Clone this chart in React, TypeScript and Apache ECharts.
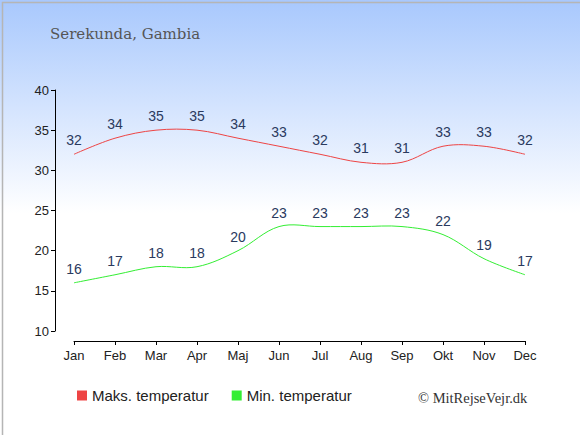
import React, { useEffect, useRef } from "react";
import * as echarts from "echarts";

const months = ["Jan", "Feb", "Mar", "Apr", "Maj", "Jun", "Jul", "Aug", "Sep", "Okt", "Nov", "Dec"];
const maxTemp = [32, 34, 35, 35, 34, 33, 32, 31, 31, 33, 33, 32];
const minTemp = [16, 17, 18, 18, 20, 23, 23, 23, 23, 22, 19, 17];
const yTicks = { min: 10, max: 40, interval: 5 };

const MAX_COLOR = "#ee4444";
const MIN_COLOR = "#33ee33";

function curveSeries(values: number[], color: string) {
  return {
    type: "custom",
    silent: true,
    data: values.map((v, i) => [i, v]),
    renderItem: (params: any, api: any) => {
      if (params.dataIndex !== 0) return { type: "group", children: [] };
      const pts = values.map((v, i) => api.coord([i, v]));
      return {
        type: "polyline",
        shape: { points: pts, smooth: 0.35 },
        style: { stroke: color, lineWidth: 1, fill: "none" },
      };
    },
  };
}

export default function App() {
  const ref = useRef<HTMLDivElement>(null);
  useEffect(() => {
    document.body.style.margin = "0";
    const chart = echarts.init(ref.current!, null, { renderer: "svg" });
    const labelStyle = { show: true, position: "top" as const, distance: 7, color: "#2a3a5e", fontSize: 14, fontFamily: "Liberation Sans, Arial, sans-serif" };
    chart.setOption({
      animation: false,
      backgroundColor: {
        type: "linear", x: 0, y: 0, x2: 0, y2: 1,
        colorStops: [
          { offset: 0, color: "#a8c8fd" },
          { offset: 0.49, color: "#ffffff" },
          { offset: 1, color: "#ffffff" },
        ],
      },
      title: {
        text: "Serekunda, Gambia",
        left: 45, top: 21,
        textStyle: { fontFamily: "DejaVu Serif, serif", fontWeight: "normal", fontSize: 15, color: "#555555" },
      },
      grid: { left: 74, right: 55, top: 90, bottom: 104 },
      legend: {
        bottom: 27, left: 72,
        itemWidth: 10, itemHeight: 10, itemGap: 23,
        icon: "rect",
        textStyle: { fontFamily: "Liberation Sans, Arial, sans-serif", fontSize: 15, color: "#222" },
        data: ["Maks. temperatur", "Min. temperatur"],
      },
      graphic: [
        { type: "rect", left: 0, top: 0, shape: { width: 579, height: 434 }, style: { fill: "none", stroke: "#b5b5b5", lineWidth: 1.5 }, silent: true },
        { type: "text", left: 418, top: 390, style: { text: "© MitRejseVejr.dk", font: "14.5px 'Liberation Serif', serif", fill: "#333" } },
      ],
      xAxis: {
        type: "category",
        data: months,
        boundaryGap: false,
        offset: 10,
        axisLine: { lineStyle: { color: "#000", width: 1 } },
        axisTick: { alignWithLabel: true, length: 4, lineStyle: { color: "#000" } },
        axisLabel: { color: "#222", fontSize: 13, margin: 8, fontFamily: "Liberation Sans, Arial, sans-serif" },
      },
      yAxis: {
        type: "value",
        min: yTicks.min, max: yTicks.max, interval: yTicks.interval,
        offset: 19,
        axisLine: { show: true, lineStyle: { color: "#000", width: 1 } },
        axisTick: { show: true, length: 4, lineStyle: { color: "#000" } },
        axisLabel: { color: "#222", fontSize: 13, margin: 6, fontFamily: "Liberation Sans, Arial, sans-serif" },
        splitLine: { show: false },
      },
      series: [
        {
          name: "Maks. temperatur", type: "line", data: maxTemp,
          symbol: "circle", symbolSize: 0, showSymbol: true, itemStyle: { color: MAX_COLOR }, lineStyle: { color: MAX_COLOR, width: 0, opacity: 0 },
          label: labelStyle,
        },
        {
          name: "Min. temperatur", type: "line", data: minTemp,
          symbol: "circle", symbolSize: 0, showSymbol: true, itemStyle: { color: MIN_COLOR }, lineStyle: { color: MIN_COLOR, width: 0, opacity: 0 },
          label: labelStyle,
        },
        curveSeries(maxTemp, MAX_COLOR),
        curveSeries(minTemp, MIN_COLOR),
      ],
    });
    return () => chart.dispose();
  }, []);
  return <div ref={ref} style={{ position: "fixed", left: 0, top: 0, width: 580, height: 435 }} />;
}
